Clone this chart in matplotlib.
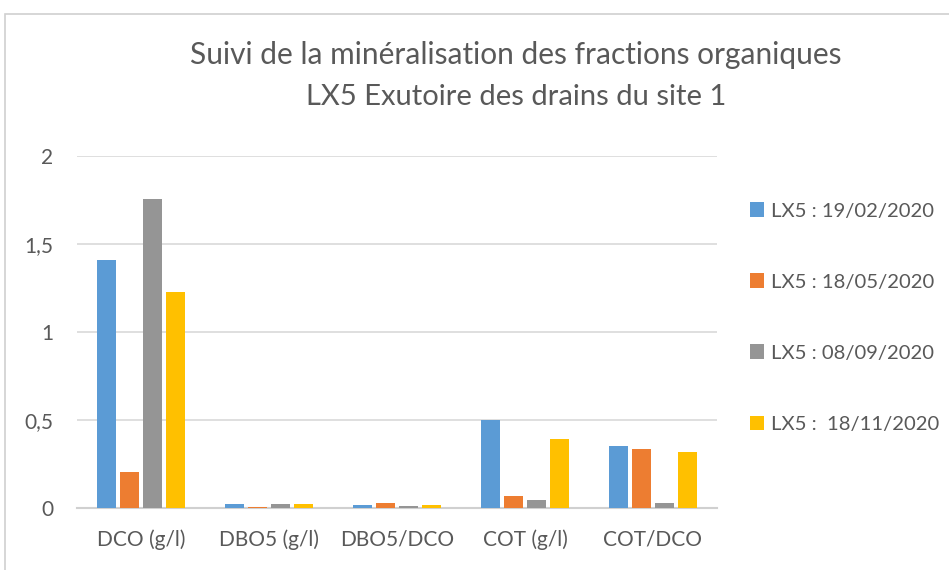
import matplotlib.pyplot as plt
import matplotlib.patches as mpatches
import numpy as np

categories = ['DCO (g/l)', 'DBO5 (g/l)', 'DBO5/DCO', 'COT (g/l)', 'COT/DCO']
series_labels = ['LX5 : 19/02/2020', 'LX5 : 18/05/2020', 'LX5 : 08/09/2020', 'LX5 :  18/11/2020']
feb = [1.41, 0.022, 0.017, 0.50, 0.356]
may = [0.208, 0.010, 0.032, 0.070, 0.337]
sep = [1.76, 0.027, 0.015, 0.049, 0.028]
nov = [1.229, 0.026, 0.020, 0.392, 0.318]
series = [feb, may, sep, nov]
colors = ['#5B9BD5', '#ED7D31', '#959595', '#FFC000']

plt.rcParams['font.family'] = ['Lato', 'DejaVu Sans']
txt = '#595959'

fig = plt.figure(figsize=(9.49, 5.7), dpi=100)
ax = fig.add_axes([0.0811, 0.1082, 0.6744, 0.6176])

x = np.arange(len(categories))
step = 0.18
width = 0.143
for i, (vals, lab, c) in enumerate(zip(series, series_labels, colors)):
    ax.bar(x + (i - 1.5) * step, vals, width, color=c, label=lab, zorder=3)

ax.set_xlim(-0.5, len(categories) - 0.5)
ax.set_ylim(0, 2)
ax.set_yticks([0, 0.5, 1, 1.5, 2])
ax.set_yticklabels(['0', '0,5', '1', '1,5', '2'])
ax.set_xticks(x)
ax.set_xticklabels(categories)
ax.tick_params(length=0, labelsize=15, colors=txt)
ax.tick_params(axis='x', pad=15.5)
ax.tick_params(axis='y', pad=17)
ax.grid(axis='y', color='#d9d9d9', lw=1.2, zorder=0)
for s in ['top', 'right', 'left']:
    ax.spines[s].set_visible(False)
ax.spines['bottom'].set_color('#d0d0d0')
ax.spines['bottom'].set_linewidth(1.5)

fig.text(0.543, 0.9035, 'Suivi de la minéralisation des fractions organiques',
         ha='center', va='center', fontsize=21.5, color=txt)
fig.text(0.544, 0.8298, 'LX5 Exutoire des drains du site 1',
         ha='center', va='center', fontsize=21, color=txt)

fig.legend(loc='upper left', bbox_to_anchor=(0.790, 0.645), frameon=False,
           fontsize=14.6, labelcolor=txt, handlelength=0.72, handleheight=0.72,
           handletextpad=0.35, labelspacing=2.65, borderaxespad=0, borderpad=0)

# chart outline like the Excel frame
fig.patches.append(mpatches.Rectangle((4.5 / 949, -0.1), 1.2, 1.1 - 14 / 570,
                                      transform=fig.transFigure, fill=False,
                                      edgecolor='#d0d0d0', lw=1.2))

fig.savefig('out.png', dpi=100)
